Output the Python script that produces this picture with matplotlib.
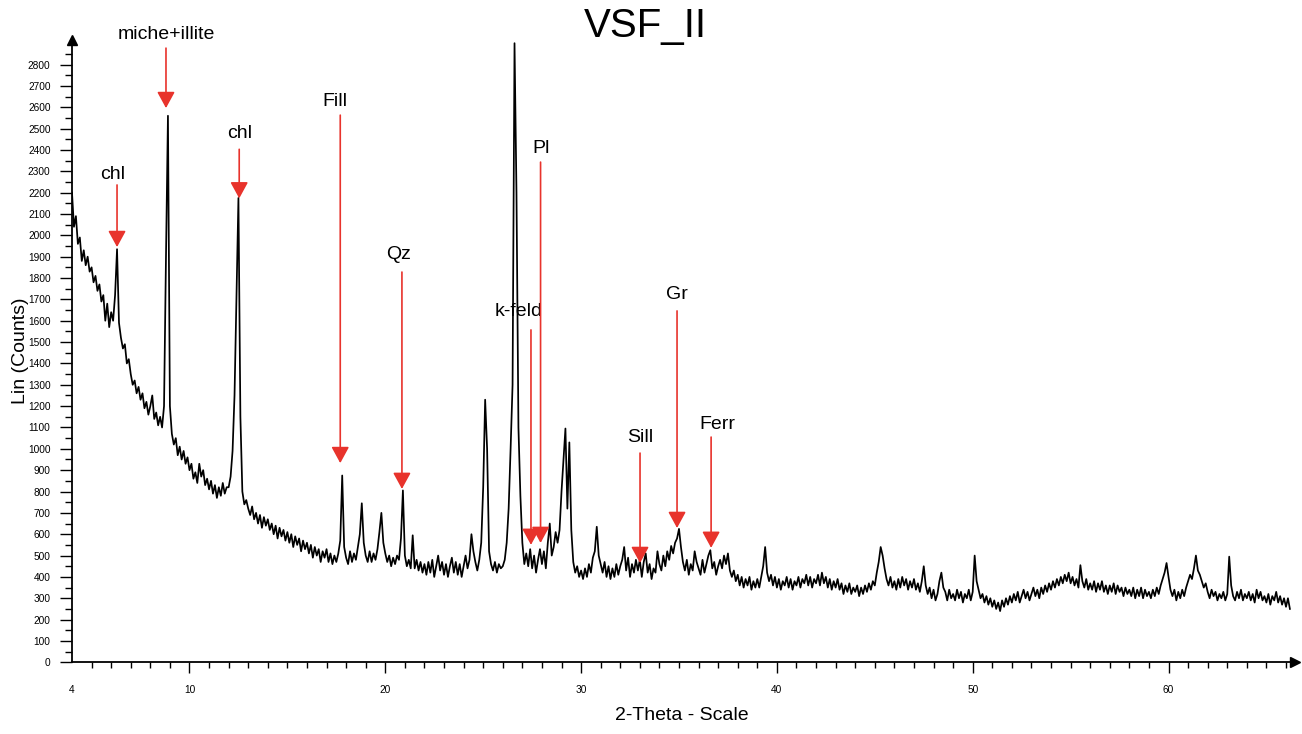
import numpy as np
import matplotlib
matplotlib.use("Agg")
import matplotlib.pyplot as plt
from matplotlib.ticker import FixedLocator

plt.rcParams['font.family'] = ['Liberation Sans', 'DejaVu Sans']

# ---------------- data ----------------
theta_start = 4.0   # first scan angle (deg 2-theta)
theta_step = 0.1    # scan step

# counts, one row per degree (x.0 ... x.9)
counts_04_14 = [
    2200, 2040, 2090, 1960, 1990, 1880, 1930, 1860, 1900, 1830,   # 4
    1850, 1780, 1810, 1740, 1770, 1690, 1720, 1600, 1680, 1570,   # 5
    1640, 1600, 1720, 1935, 1590, 1520, 1470, 1490, 1400, 1420,   # 6
    1350, 1300, 1320, 1260, 1290, 1230, 1260, 1190, 1220, 1160,   # 7
    1200, 1250, 1140, 1170, 1110, 1150, 1100, 1200, 1900, 2560,   # 8
    1200, 1070, 1020, 1050, 970, 1010, 950, 990, 930, 960,        # 9
    900, 930, 860, 890, 840, 930, 870, 900, 830, 860,             # 10
    810, 850, 790, 830, 770, 820, 780, 840, 790, 820,             # 11
    820, 870, 990, 1250, 1700, 2175, 1150, 800, 740, 760,         # 12
    720, 690, 730, 670, 700, 650, 690, 630, 680, 640,             # 13
    670, 620, 650, 600, 640, 580, 630, 590, 620, 570,             # 14
]
counts_15_29 = [
    610, 560, 600, 540, 590, 550, 580, 520, 570, 530,             # 15
    560, 510, 550, 490, 540, 500, 530, 470, 520, 490,             # 16
    530, 470, 510, 460, 500, 470, 510, 570, 875, 540,             # 17
    490, 460, 520, 470, 510, 480, 540, 600, 745, 560,             # 18
    500, 470, 520, 470, 510, 480, 530, 610, 700, 560,             # 19
    510, 470, 500, 450, 490, 460, 500, 480, 580, 805,             # 20
    500, 450, 480, 440, 595, 440, 480, 430, 470, 420,             # 21
    460, 410, 470, 420, 480, 400, 450, 500, 430, 470,             # 22
    410, 460, 400, 450, 490, 420, 470, 410, 460, 400,             # 23
    450, 500, 440, 480, 600, 520, 470, 430, 480, 560,             # 24
    820, 1230, 1000, 520, 460, 430, 470, 420, 460, 440,           # 25
    450, 480, 560, 720, 1000, 1300, 2900, 2200, 1100, 780,        # 26
    560, 460, 510, 450, 530, 440, 500, 420, 480, 530,             # 27
    460, 520, 440, 560, 650, 500, 540, 610, 560, 620,             # 28
    800, 950, 1095, 720, 1030, 620, 470, 420, 450, 400,           # 29
]
counts_30_47 = [
    430, 390, 440, 400, 460, 420, 490, 520, 635, 500,             # 30
    460, 420, 470, 400, 450, 390, 440, 400, 460, 410,             # 31
    450, 480, 540, 430, 490, 400, 460, 420, 480, 430,             # 32
    480, 400, 470, 510, 420, 460, 390, 440, 420, 520,             # 33
    460, 430, 500, 450, 520, 480, 545, 510, 560, 580,             # 34
    625, 540, 470, 430, 480, 410, 460, 430, 520, 470,             # 35
    440, 410, 480, 420, 460, 500, 525, 440, 470, 410,             # 36
    450, 480, 440, 500, 460, 510, 430, 400, 430, 380,             # 37
    410, 360, 400, 350, 390, 360, 400, 340, 380, 350,             # 38
    390, 350, 400, 450, 540, 420, 380, 410, 360, 400,             # 39
    350, 390, 340, 380, 360, 400, 350, 390, 340, 380,             # 40
    360, 400, 350, 390, 370, 410, 360, 400, 350, 390,             # 41
    370, 410, 360, 420, 370, 400, 350, 390, 340, 380,             # 42
    350, 390, 340, 370, 320, 360, 330, 370, 320, 350,             # 43
    330, 360, 310, 350, 320, 360, 330, 370, 340, 380,             # 44
    360, 420, 470, 540, 500, 440, 390, 360, 400, 350,             # 45
    380, 340, 390, 350, 400, 360, 390, 340, 380, 350,             # 46
    390, 340, 370, 330, 380, 450, 360, 320, 350, 300,             # 47
]
counts_48_66 = [
    340, 290, 320, 380, 420, 350, 330, 290, 340, 300,             # 48
    320, 290, 340, 300, 330, 280, 320, 300, 340, 290,             # 49
    330, 500, 380, 340, 300, 320, 280, 310, 270, 300,             # 50
    260, 290, 250, 280, 240, 290, 260, 300, 270, 310,             # 51
    280, 320, 290, 330, 280, 310, 340, 300, 330, 290,             # 52
    320, 350, 310, 340, 300, 350, 320, 360, 330, 370,             # 53
    340, 380, 350, 390, 360, 400, 370, 410, 380, 420,             # 54
    370, 400, 360, 390, 350, 455, 380, 350, 390, 340,             # 55
    370, 340, 380, 330, 370, 340, 380, 330, 360, 320,             # 56
    360, 330, 370, 320, 360, 330, 350, 310, 350, 320,             # 57
    340, 310, 350, 300, 340, 310, 350, 300, 340, 310,             # 58
    330, 300, 340, 310, 350, 320, 360, 390, 420, 465,             # 59
    400, 340, 310, 340, 290, 330, 300, 340, 310, 350,             # 60
    380, 410, 390, 440, 500, 430, 410, 380, 350, 370,             # 61
    330, 300, 340, 310, 330, 290, 320, 300, 330, 290,             # 62
    320, 495, 360, 310, 290, 330, 300, 340, 290, 320,             # 63
    300, 330, 290, 320, 280, 340, 300, 330, 290, 310,             # 64
    280, 320, 270, 310, 290, 330, 280, 310, 270, 300,             # 65
    260, 300, 250,                                                # 66
]

# phase annotations
phase_labels = ["chl", "miche+illite", "chl", "Fill", "Qz", "k-feld", "Pl", "Sill", "Gr", "Ferr"]
arrow_theta = [6.30, 8.80, 12.54, 17.70, 20.85, 27.44, 27.93, 33.01, 34.90, 36.64]
arrow_start = [2236, 2877, 2403, 2563, 1828, 1557, 2343, 980, 1646, 1055]
arrow_tip = [1945, 2596, 2173, 933, 812, 550, 559, 465, 629, 536]
label_theta = [6.09, 8.80, 12.54, 17.43, 20.70, 26.81, 27.97, 33.01, 34.90, 36.94]
label_counts = [2287, 2943, 2478, 2629, 1908, 1641, 2409, 1055, 1725, 1116]

y_tick_values = list(range(0, 2801, 100))
x_tick_values = [4, 10, 20, 30, 40, 50, 60]

# ---------------- plot ----------------
counts = np.array(counts_04_14 + counts_15_29 + counts_30_47 + counts_48_66, dtype=float)
two_theta = theta_start + theta_step * np.arange(len(counts))

W, H = 1302, 734
fig = plt.figure(figsize=(W / 100, H / 100), dpi=100)
ax = fig.add_axes([72 / W, 71.7 / H, 1223 / W, 622.3 / H])

ax.plot(two_theta, counts, color='black', lw=1.25)
ax.set_xlim(4, 66.46)
ax.set_ylim(0, 2915)

for s in ['top', 'right']:
    ax.spines[s].set_visible(False)
for s in ['left', 'bottom']:
    ax.spines[s].set_linewidth(1.3)
    ax.spines[s].set_color('black')

# axis arrow heads
ax.plot(1, 0, marker='>', ms=7, color='black', transform=ax.transAxes, clip_on=False)
ax.plot(0, 1, marker='^', ms=7, color='black', transform=ax.transAxes, clip_on=False)

# y ticks
ax.yaxis.set_major_locator(FixedLocator(y_tick_values))
ax.yaxis.set_minor_locator(FixedLocator([v + 50 for v in y_tick_values]))
ax.tick_params(axis='y', which='major', direction='out', length=8.5, width=1.0,
               labelsize=7.3, pad=7)
ax.tick_params(axis='y', which='minor', direction='out', length=5, width=1.0)

# x ticks
ax.xaxis.set_major_locator(FixedLocator(x_tick_values))
ax.xaxis.set_minor_locator(FixedLocator([v for v in range(5, 67) if v % 10 != 0]))
ax.tick_params(axis='x', which='major', direction='out', length=8, width=1.0,
               labelsize=7.3, pad=8)
ax.tick_params(axis='x', which='minor', direction='out', length=4.5, width=1.0)
ax.xaxis.get_major_ticks()[0].tick1line.set_visible(False)

ax.set_ylabel('Lin (Counts)', fontsize=14)
ax.yaxis.set_label_coords(-0.035, 0.5)
ax.set_xlabel('2-Theta - Scale', fontsize=14)
ax.xaxis.set_label_coords(0.499, -0.072)

fig.text(645 / W, 1 - 26 / H, 'VSF_II', fontsize=29, ha='center', va='center')

red = '#e8332c'
for lbl, xa, ys, yt, tx, ty in zip(phase_labels, arrow_theta, arrow_start, arrow_tip,
                                    label_theta, label_counts):
    ax.annotate('', xy=(xa, yt), xytext=(xa, ys), annotation_clip=False,
                arrowprops=dict(arrowstyle='-|>,head_length=0.55,head_width=0.3',
                                color=red, lw=1.2, shrinkA=0, shrinkB=0,
                                mutation_scale=18))
    ax.text(tx, ty, lbl, ha='center', va='center', fontsize=14, color='black')

fig.savefig('out.png', dpi=100)
